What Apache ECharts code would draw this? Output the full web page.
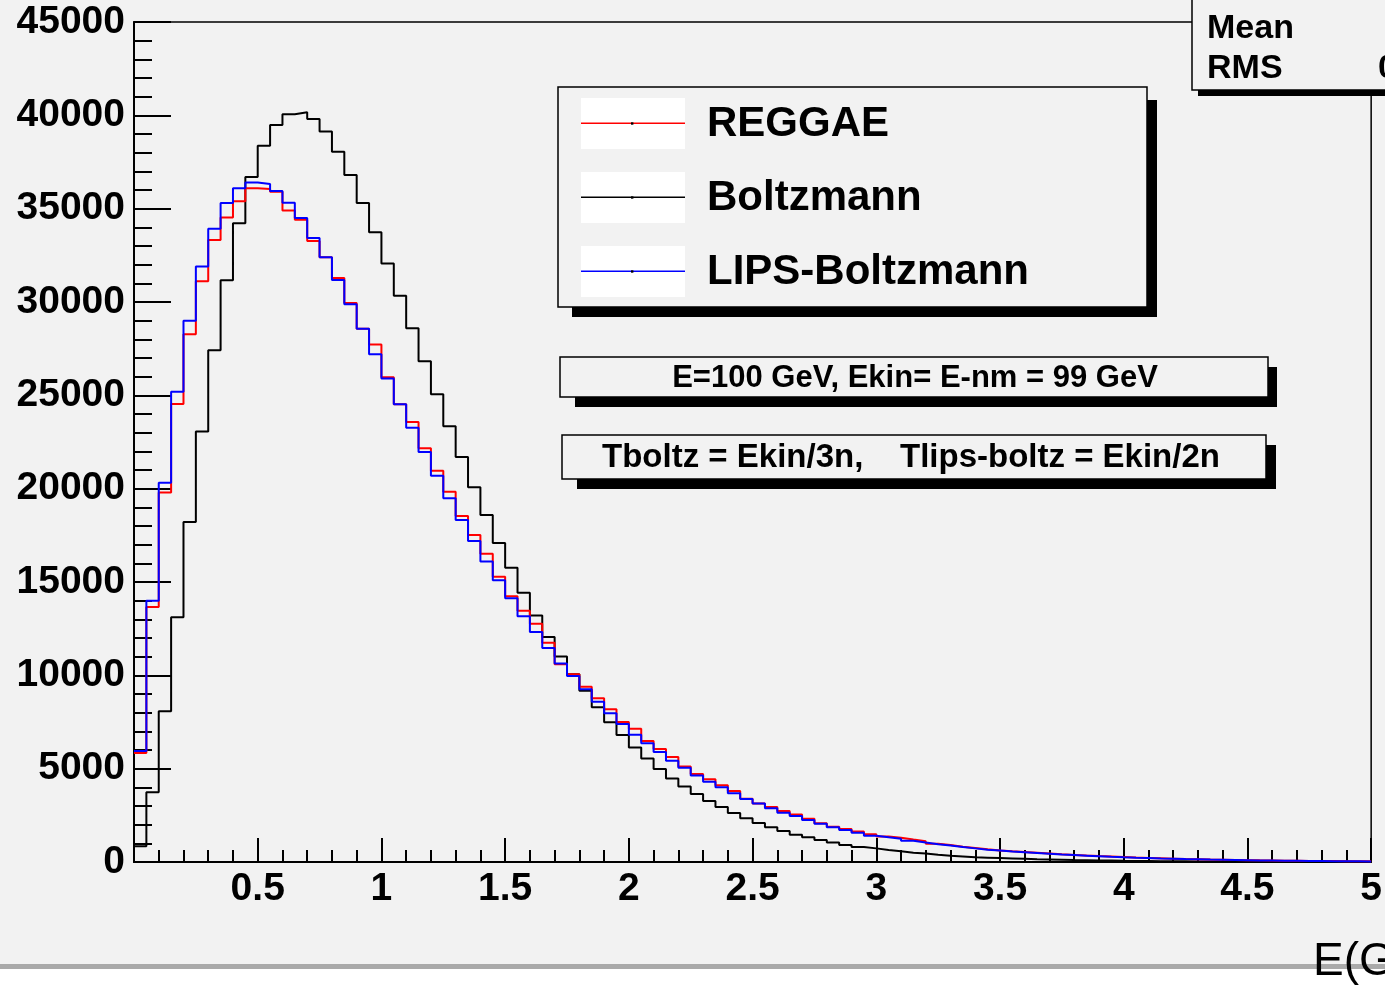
<!DOCTYPE html>
<html>
<head>
<meta charset="utf-8">
<script src="https://cdn.jsdelivr.net/npm/echarts@6/dist/echarts.min.js"></script>
<style>
  html, body { margin: 0; padding: 0; background: #f2f2f2; }
  #main { width: 1385px; height: 987px; }
</style>
</head>
<body>
<div id="main"></div>
<script>
// histogram: 100 bins of 0.05 GeV from 0 to 5
const xMin = 0;
const binWidth = 0.05;
const xTicks = ['0.5', '1', '1.5', '2', '2.5', '3', '3.5', '4', '4.5', '5'];

const reggae = [
  5840, 13660, 19790, 24530, 28270, 31110, 33320, 34530, 35400, 36090,
  36050, 35900, 34900, 34400, 33270, 32400, 31290, 29950, 28570, 27720,
  25970, 24520, 23570, 22170, 20960, 19830, 18530, 17520, 16520, 15280,
  14230, 13460, 12760, 11740, 10590, 10060, 9390, 8770, 8180, 7500,
  7140, 6480, 6050, 5630, 5110, 4720, 4430, 4110, 3800, 3390,
  3130, 2950, 2730, 2550, 2320, 2070, 1890, 1770, 1630, 1480,
  1360, 1300, 1200, 1110, 980, 910, 820, 750, 680, 620,
  570, 530, 490, 450, 410, 380, 345, 315, 290, 265,
  240, 220, 200, 180, 160, 145, 130, 118, 108, 98,
  88, 80, 72, 65, 58, 52, 47, 42, 38, 34
];

const boltzmann = [
  840, 3740, 8080, 13110, 18210, 23060, 27420, 31160, 34220, 36690,
  38370, 39480, 40060, 40160, 39800, 39140, 38050, 36800, 35310, 33740,
  32060, 30340, 28600, 26820, 25060, 23340, 21690, 20080, 18590, 17090,
  15760, 14420, 13210, 12060, 11010, 10060, 9180, 8290, 7480, 6800,
  6140, 5540, 4980, 4470, 4040, 3640, 3270, 2950, 2630, 2340,
  2090, 1860, 1660, 1460, 1320, 1180, 1040, 910, 800, 730,
  640, 570, 500, 450, 390, 340, 300, 250, 230, 210,
  190, 170, 150, 135, 120, 105, 95, 85, 75, 65,
  58, 52, 46, 40, 36, 32, 28, 25, 22, 20,
  17, 15, 13, 12, 10, 9, 8, 7, 6, 5
];

const lipsBoltzmann = [
  5950, 14000, 20320, 25190, 29000, 31900, 33930, 35300, 36090, 36400,
  36320, 35950, 35320, 34500, 33430, 32400, 31180, 29880, 28570, 27200,
  25900, 24520, 23260, 21960, 20690, 19490, 18320, 17190, 16100, 15090,
  14130, 13170, 12320, 11470, 10630, 9960, 9250, 8590, 7970, 7390,
  6820, 6360, 5890, 5430, 5050, 4640, 4300, 4000, 3680, 3380,
  3130, 2880, 2640, 2460, 2250, 2050, 1860, 1710, 1570, 1410,
  1320, 1250, 1140, 1040, 950, 890, 800, 730, 660, 610,
  560, 520, 480, 440, 400, 370, 340, 310, 280, 255,
  232, 212, 192, 174, 157, 142, 128, 116, 105, 95,
  86, 78, 70, 63, 57, 51, 46, 41, 37, 33
];

const legendNames = ['REGGAE', 'Boltzmann', 'LIPS-Boltzmann'];
const colors = ['#ff0000', '#000000', '#0000ff'];

const FONT = '"Liberation Sans", Arial, Helvetica, sans-serif';

// bin lower edges plus the closing edge, for step drawing
function toSteps(vals) {
  const pts = vals.map((v, i) => [+(xMin + i * binWidth).toFixed(2), v]);
  pts.push([+(xMin + vals.length * binWidth).toFixed(2), vals[vals.length - 1]]);
  return pts;
}

function histSeries(name, vals, color, z) {
  return {
    name: name,
    type: 'line',
    step: 'end',
    data: toSteps(vals),
    symbol: 'none',
    z: z,
    lineStyle: { color: color, width: 2 },
    clip: true
  };
}

function txt(text, x, y, size, weight, align) {
  return {
    type: 'text', z: 120,
    style: {
      text: text, x: x, y: y,
      fontSize: size, fontWeight: weight, fontFamily: FONT,
      fill: '#000',
      align: align || 'left', textAlign: align || 'left',
      verticalAlign: 'middle', textVerticalAlign: 'middle'
    }
  };
}

function box(x, y, w, h, sx, sy, sw, sh) {
  return [
    { type: 'rect', z: 110, shape: { x: sx, y: sy, width: sw, height: sh }, style: { fill: '#000' } },
    { type: 'rect', z: 111, shape: { x: x, y: y, width: w, height: h },
      style: { fill: '#f2f2f2', stroke: '#000', lineWidth: 1.5 } }
  ];
}

const graphics = [];
// canvas bottom edge
graphics.push({ type: 'rect', z: 105, shape: { x: 0, y: 964, width: 1385, height: 5 }, style: { fill: '#aaaaaa' } });
graphics.push({ type: 'rect', z: 105, shape: { x: 0, y: 969, width: 1385, height: 18 }, style: { fill: '#ffffff' } });

// stats box (cut by the canvas edge)
graphics.push(...box(1192, -10, 220, 100, 1198, 0, 220, 96));
graphics.push(txt('Mean', 1207, 29, 34, 'bold'));
graphics.push(txt('RMS', 1207, 69, 34, 'bold'));
graphics.push(txt('0', 1378, 69, 34, 'bold'));

// legend
graphics.push(...box(558, 87, 589, 220, 572, 100, 585, 217));
const rowY = [123.5, 197.5, 271.5];
legendNames.forEach((n, i) => {
  const cy = rowY[i];
  graphics.push({ type: 'rect', z: 115, shape: { x: 581, y: cy - 25.5, width: 104, height: 51 }, style: { fill: '#fff' } });
  graphics.push({ type: 'rect', z: 116, shape: { x: 581, y: cy - 1, width: 104, height: 1.6 }, style: { fill: colors[i] } });
  graphics.push({ type: 'rect', z: 117, shape: { x: 631, y: cy - 1.2, width: 2.4, height: 2.4 }, style: { fill: '#000' } });
  graphics.push(txt(n, 707, cy + 1, 42, 'bold'));
});

// parameter boxes
graphics.push(...box(560, 357, 708, 40, 575, 367, 702, 40));
graphics.push(txt('E=100 GeV, Ekin= E-nm = 99 GeV', 915, 378, 31, 'bold', 'center'));
graphics.push(...box(562, 435, 704, 44, 577, 445, 699, 44));
graphics.push(txt('Tboltz = Ekin/3n,    Tlips-boltz = Ekin/2n', 911, 458, 33, 'bold', 'center'));

// x axis title
graphics.push(txt('E(GeV)', 1313, 962, 46, 'normal'));

const chart = echarts.init(document.getElementById('main'));
chart.setOption({
  animation: false,
  backgroundColor: '#f2f2f2',
  grid: {
    left: 134, right: 9, top: 22, bottom: 125,
    show: true, borderColor: '#000', borderWidth: 1.5,
    backgroundColor: 'transparent'
  },
  xAxis: {
    type: 'value',
    min: 0, max: 5, interval: 0.5,
    axisLine: { lineStyle: { color: '#000', width: 2 } },
    axisTick: { inside: true, length: 24, lineStyle: { color: '#000', width: 2 } },
    minorTick: { show: true, splitNumber: 5, length: 12, lineStyle: { color: '#000', width: 2 } },
    splitLine: { show: false },
    axisLabel: {
      showMinLabel: false,
      margin: 8,
      color: '#000', fontSize: 39, fontWeight: 'bold', fontFamily: FONT,
      formatter: v => xTicks.find(t => Math.abs(parseFloat(t) - v) < 1e-6) || ''
    }
  },
  yAxis: {
    type: 'value',
    min: 0, max: 45000, interval: 5000,
    axisLine: { show: true, lineStyle: { color: '#000', width: 2 } },
    axisTick: { show: true, inside: true, length: 37, lineStyle: { color: '#000', width: 2 } },
    minorTick: { show: true, splitNumber: 5, length: 18, lineStyle: { color: '#000', width: 2 } },
    splitLine: { show: false },
    axisLabel: {
      margin: 9,
      color: '#000', fontSize: 39, fontWeight: 'bold', fontFamily: FONT,
      formatter: v => String(v)
    }
  },
  series: [
    histSeries('Boltzmann', boltzmann, colors[1], 2),
    histSeries('REGGAE', reggae, colors[0], 3),
    histSeries('LIPS-Boltzmann', lipsBoltzmann, colors[2], 4)
  ],
  graphic: { elements: graphics }
});

window.addEventListener('resize', () => chart.resize());
</script>
</body>
</html>
